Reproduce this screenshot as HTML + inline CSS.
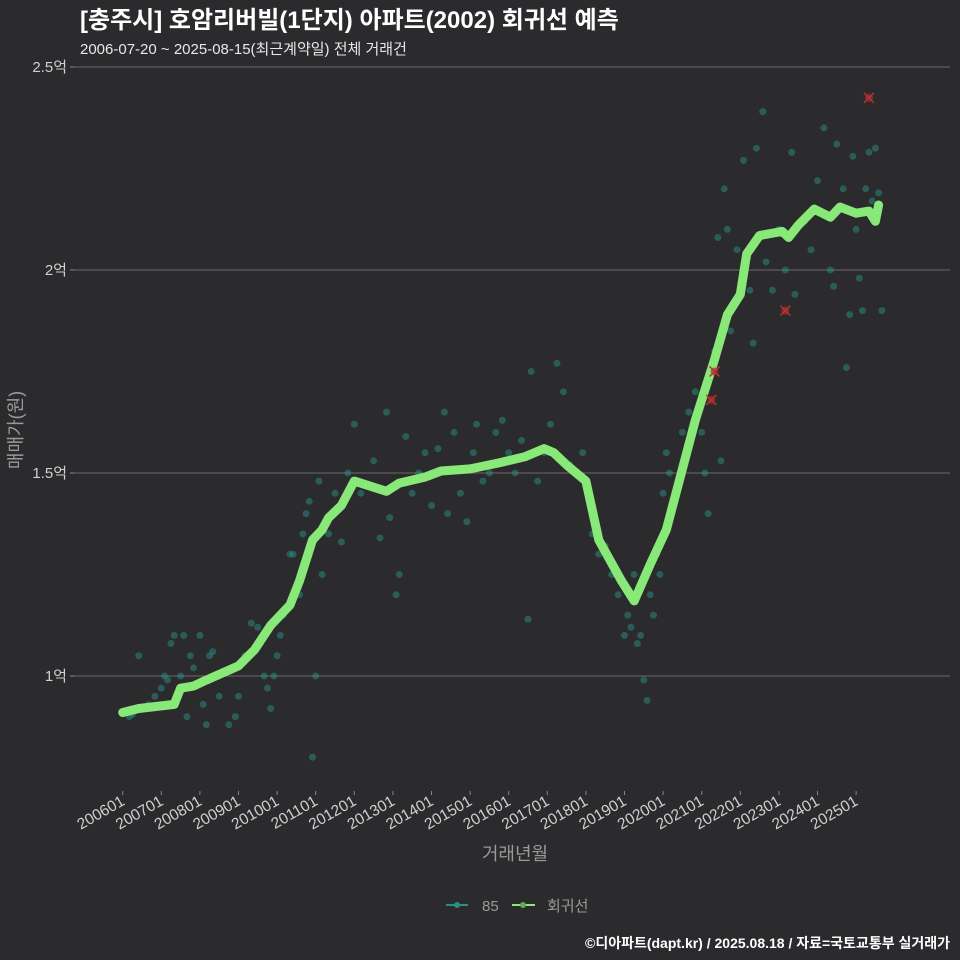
<!DOCTYPE html>
<html><head><meta charset="utf-8">
<style>
html,body{margin:0;padding:0;background:#2b2a2c;}
svg{display:block;font-family:"Liberation Sans","Noto Sans CJK KR",sans-serif;}
</style></head>
<body>
<svg id="c" width="960" height="960" viewBox="0 0 960 960">
<rect width="960" height="960" fill="#2b2a2c"/>
<text x="80" y="28" fill="#ffffff" font-size="24" font-weight="bold">[충주시] 호암리버빌(1단지) 아파트(2002) 회귀선 예측</text>
<text x="80" y="54" fill="#e8e8e8" font-size="15">2006-07-20 ~ 2025-08-15(최근계약일) 전체 거래건</text>
<g id="grid"></g>
<g id="pts"></g>
<g id="line"></g>
<g id="xax"></g>
<text x="22" y="430" fill="#9a9a9a" font-size="18" transform="rotate(-90 22 430)" text-anchor="middle">매매가(원)</text>
<text x="515" y="860" fill="#9a9a9a" font-size="18" text-anchor="middle">거래년월</text>
<g>
<g>
<line x1="446" y1="905" x2="468" y2="905" stroke="#2a8c8c" stroke-width="2"/>
<circle cx="457" cy="905" r="3" fill="#2a8c8c"/>
<text x="482" y="911" fill="#9a9a9a" font-size="15">85</text></g>
<g>
<line x1="512" y1="905" x2="535" y2="905" stroke="#88e878" stroke-width="2"/>
<circle cx="523" cy="905" r="3" fill="#5fae55"/>
<text x="547" y="911" fill="#9a9a9a" font-size="15">회귀선</text></g>
</g>
<text x="950" y="948" fill="#ffffff" font-size="14" font-weight="bold" text-anchor="end">©디아파트(dapt.kr) / 2025.08.18 / 자료=국토교통부 실거래가</text>
</svg>
<script>
const yTicks=[1,1.5,2,2.5];
const yTickLabels=["1억","1.5억","2억","2.5억"];
const xTickLabels=["200601","200701","200801","200901","201001","201101","201201","201301","201401","201501","201601","201701","201801","201901","202001","202101","202201","202301","202401","202501"];
const lineMonths=[0,5,16,18,22,26,36,41,46,52,55,59,62,64,68,72,76,82,86,94,99,108,117,125,131,134,138,144,148,155,159,164,169,173,178,184,188,192,194,198,205,207,210,215,220,223,228,232,234,235];
const lineValues=[0.91,0.92,0.93,0.97,0.975,0.99,1.025,1.065,1.125,1.175,1.235,1.335,1.36,1.39,1.42,1.48,1.47,1.455,1.475,1.49,1.505,1.51,1.525,1.54,1.56,1.55,1.52,1.48,1.335,1.235,1.185,1.275,1.36,1.48,1.63,1.78,1.89,1.94,2.04,2.085,2.095,2.08,2.11,2.15,2.13,2.155,2.14,2.145,2.12,2.16];
const ptMonths=[2,3,5,8,10,12,13,14,15,16,17,18,19,20,21,22,24,25,26,27,28,30,33,35,36,38,40,42,44,45,46,47,48,49,50,52,53,55,56,57,58,59,60,61,62,64,66,68,70,72,74,78,80,82,83,85,86,88,90,92,94,96,98,100,101,103,105,107,109,110,112,114,116,118,120,122,124,126,127,129,131,133,135,137,139,141,143,146,148,150,152,154,156,157,158,159,160,161,162,163,164,165,166,167,168,169,170,172,174,176,178,180,181,182,184,185,186,187,188,189,191,193,195,196,197,199,200,202,204,206,208,209,212,214,216,218,220,221,222,224,225,226,227,228,229,230,231,232,233,235,236,234];
const ptValues=[0.9,0.905,1.05,0.93,0.95,0.97,1.0,0.99,1.08,1.1,0.95,1.0,1.1,0.9,1.05,1.02,1.1,0.93,0.88,1.05,1.06,0.95,0.88,0.9,0.95,1.05,1.13,1.12,1.0,0.97,0.92,1.0,1.05,1.1,1.15,1.3,1.3,1.2,1.35,1.4,1.43,0.8,1.0,1.48,1.25,1.35,1.45,1.33,1.5,1.62,1.45,1.53,1.34,1.65,1.39,1.2,1.25,1.59,1.45,1.5,1.55,1.42,1.56,1.65,1.4,1.6,1.45,1.38,1.55,1.62,1.48,1.5,1.6,1.63,1.55,1.5,1.58,1.14,1.75,1.48,1.55,1.62,1.77,1.7,1.52,1.5,1.55,1.35,1.3,1.32,1.25,1.2,1.1,1.15,1.12,1.25,1.08,1.1,0.99,0.94,1.2,1.15,1.3,1.25,1.45,1.55,1.5,1.45,1.6,1.65,1.7,1.6,1.5,1.4,1.8,2.08,1.53,2.2,2.1,1.85,2.05,2.27,1.95,1.82,2.3,2.39,2.02,1.95,2.1,2.0,2.29,1.94,2.12,2.05,2.22,2.35,2.0,1.96,2.31,2.2,1.76,1.89,2.28,2.1,1.98,1.9,2.2,2.29,2.17,2.19,1.9,2.3];
const outMonths=[232,206,184,183];
const outValues=[2.424,1.9,1.75,1.68];

const NS="http://www.w3.org/2000/svg";
const X=m=>122.7+m*38.6/12;
const Y=v=>676-(v-1)*406;
function mk(tag,attrs,parent){const e=document.createElementNS(NS,tag);for(const k in attrs)e.setAttribute(k,attrs[k]);parent.appendChild(e);return e;}
const grid=document.getElementById('grid');
yTicks.forEach((t,i)=>{
  const l=mk('line',{x1:75,x2:950,y1:Y(t),y2:Y(t),stroke:'#6a6a6a','stroke-width':1},grid);
  
  
  const tk=mk('line',{x1:70,x2:75,y1:Y(t),y2:Y(t),stroke:'#888'},grid);
  
  
  const tx=mk('text',{x:67,y:Y(t)+5,fill:'#d0d0d0','font-size':15,'text-anchor':'end'},grid);
  tx.textContent=yTickLabels[i];
  
  
});
const xax=document.getElementById('xax');
xTickLabels.forEach((s,i)=>{
  const x=X(i*12);
  const tk=mk('line',{x1:x,x2:x,y1:791,y2:795,stroke:'#888'},xax);
  
  
  const tx=mk('text',{x:x+3,y:804,fill:'#d0d0d0','font-size':15.5,'text-anchor':'end',transform:`rotate(-30 ${x+3} 804)`},xax);
  tx.textContent=s;
  
  
});
const pts=document.getElementById('pts');
ptMonths.forEach((m,i)=>{
  const c=mk('circle',{cx:X(m),cy:Y(ptValues[i]),r:3.5,fill:'#2a9a8e','fill-opacity':0.45},pts);
  
  
});
const ln=document.getElementById('line');
const d=lineMonths.map((m,i)=>(i?'L':'M')+X(m).toFixed(1)+' '+Y(lineValues[i]).toFixed(1)).join(' ');
const p=mk('path',{d:d,fill:'none',stroke:'#88e878','stroke-width':9,'stroke-linejoin':'round','stroke-linecap':'round'},ln);


outMonths.forEach((m,i)=>{
  const g=mk('g',{},ln);
  
  
  const x=X(m),y=Y(outValues[i]);
  mk('circle',{cx:x,cy:y,r:4,fill:'#a03030','fill-opacity':0.7},g);
  mk('path',{d:`M${x-5} ${y-5}L${x+5} ${y+5}M${x-5} ${y+5}L${x+5} ${y-5}`,stroke:'#c03030','stroke-width':1.5},g);
});
</script>
</body></html>
